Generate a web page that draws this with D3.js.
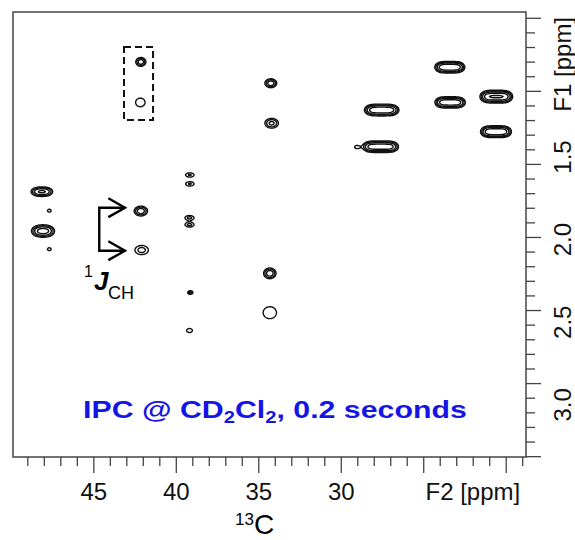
<!DOCTYPE html>
<html>
<head>
<meta charset="utf-8">
<script src="https://cdn.jsdelivr.net/npm/d3@7"></script>
<style>
  body { margin: 0; background: #fff; }
  svg { display: block; }
</style>
</head>
<body>
<script>
// ---- axis settings (ppm) ----
const f2Domain = [49.9, 18.8];          // 13C, decreasing to the right
const f1Domain = [0.623, 3.315];        // 1H, increasing downward
const f2Labels = [45, 40, 35, 30];
const f1Labels = [1.5, 2.0, 2.5, 3.0];
// F1 ruler marks: first mark, spacing and count (ppm)
const f1RulerStart = 0.661, f1RulerStep = 0.0884, f1RulerCount = 31;

// ---- cross peaks ----
// F2 shift, F1 shift, line width along F2 / F1 (ppm), line intensity, number of lines, line spacing along F2 (ppm)
const peakC  = [42.15, 42.18, 34.27, 34.22, 23.42, 23.40, 20.60, 20.62, 27.55, 27.62, 29.06,
                48.15, 48.08, 47.70, 47.70, 42.15, 42.10, 39.18, 39.18, 39.20, 39.20, 39.15, 39.20, 34.33, 34.33];
const peakH  = [0.925, 1.170, 1.054, 1.296, 0.957, 1.170, 1.135, 1.347, 1.216, 1.438, 1.440,
                1.710, 1.948, 1.825, 2.058, 1.827, 2.063, 1.609, 1.663, 1.868, 1.910, 2.320, 2.550, 2.204, 2.442];
const peakWC = [0.206, 0.333, 0.242, 0.303, 0.242, 0.242, 0.260, 0.248, 0.273, 0.273, 0.182,
                0.290, 0.300, 0.139, 0.139, 0.273, 0.376, 0.267, 0.267, 0.267, 0.267, 0.121, 0.248, 0.255, 0.450];
const peakWH = [0.0181, 0.0302, 0.0181, 0.0218, 0.0194, 0.0194, 0.0212, 0.0200, 0.0200, 0.0200, 0.0121,
                0.0180, 0.0220, 0.0109, 0.0109, 0.0200, 0.0254, 0.0133, 0.0133, 0.0133, 0.0133, 0.0079, 0.0169, 0.0218, 0.0400];
const peakI  = [3.0, 1.45, 3.0, 2.5, 3.0, 2.9, 3.2, 3.0, 3.0, 3.0, 1.3,
                2.6, 3.0, 1.4, 1.4, 3.0, 1.8, 1.6, 1.6, 1.7, 1.7, 2.5, 1.3, 3.0, 1.5];
const peakN  = [1, 1, 1, 1, 4, 4, 4, 4, 4, 4, 1,
                2, 2, 1, 1, 1, 1, 1, 1, 1, 1, 1, 1, 1, 1];
const peakJ  = [0, 0, 0, 0, 0.364, 0.376, 0.394, 0.376, 0.424, 0.455, 0,
                0.500, 0.500, 0, 0, 0, 0, 0, 0, 0, 0, 0, 0, 0, 0];

// contour levels (multiples of the lowest level)
const levels = [1, 1.5, 2.2, 3.3, 5, 7.5];

// ---- annotations (ppm) ----
const boxC = [43.17, 41.41];
const boxH = [0.835, 1.276];
const bracketC = [44.67, 43.11, 44.12];   // stem, arrow tip, arrow barb
const bracketH = [1.807, 2.067];
const barbH = 0.057;

const W = 575, H = 540;
const frame = { left: 13, top: 12, right: 526, bottom: 457 };
const axisColor = "#444";

const svg = d3.select("body").append("svg")
  .attr("width", W).attr("height", H)
  .style("font-family", "'Liberation Sans', Arial, sans-serif");

const x = d3.scaleLinear().domain(f2Domain).range([frame.left, frame.right]);
const y = d3.scaleLinear().domain(f1Domain).range([frame.top, frame.bottom]);

// ---- spectrum grid, one sample per pixel ----
const nx = frame.right - frame.left;
const ny = frame.bottom - frame.top;
const gx = d3.scaleLinear().domain([0, nx]).range(f2Domain);
const gy = d3.scaleLinear().domain([0, ny]).range(f1Domain);

const comps = [];
peakC.forEach((c, i) => {
  const n = peakN[i];
  for (let k = 0; k < n; k++) {
    comps.push({
      c: c + (k - (n - 1) / 2) * peakJ[i],
      h: peakH[i],
      wc: peakWC[i], wh: peakWH[i],
      a: peakI[i]
    });
  }
});

const values = new Float64Array(nx * ny);
for (let j = 0; j < ny; j++) {
  const ph = gy(j + 0.5);
  for (let i = 0; i < nx; i++) {
    const pc = gx(i + 0.5);
    let v = 0;
    for (const p of comps) {
      const dc = (pc - p.c) / p.wc, dh = (ph - p.h) / p.wh;
      const r = dc * dc + dh * dh;
      if (r < 60) v += p.a * Math.exp(-0.5 * r);
    }
    values[j * nx + i] = v;
  }
}

const contours = d3.contours().size([nx, ny]).thresholds(levels)(values);
const toPpm = d3.geoTransform({
  point(px, py) { this.stream.point(x(gx(px)), y(gy(py))); }
});
const path = d3.geoPath(toPpm);

svg.append("g")
  .selectAll("path")
  .data(contours)
  .join("path")
  .attr("d", path)
  .attr("fill", "none")
  .attr("stroke", "#111")
  .attr("stroke-width", 1.4)
  .attr("stroke-linejoin", "round");

// ---- frame ----
svg.append("rect")
  .attr("x", frame.left).attr("y", frame.top)
  .attr("width", frame.right - frame.left).attr("height", frame.bottom - frame.top)
  .attr("fill", "none").attr("stroke", axisColor).attr("stroke-width", 1.5);

// ---- F2 axis ticks ----
const f2Ticks = d3.range(Math.ceil(f2Domain[1]), Math.floor(f2Domain[0]) + 1, 1);
svg.append("g").selectAll("line")
  .data(f2Ticks)
  .join("line")
  .attr("x1", d => x(d)).attr("x2", d => x(d))
  .attr("y1", frame.bottom)
  .attr("y2", d => frame.bottom + (d % 5 === 0 ? 16 : 9))
  .attr("stroke", axisColor).attr("stroke-width", 1.3);

svg.append("g").selectAll("text")
  .data(f2Labels)
  .join("text")
  .attr("x", d => x(d)).attr("y", 500)
  .attr("text-anchor", "middle")
  .attr("font-size", 24).attr("fill", "#111")
  .text(d => d);

svg.append("text")
  .attr("x", x(20) + 14).attr("y", 500)
  .attr("text-anchor", "end")
  .attr("font-size", 24).attr("fill", "#111")
  .text("F2 [ppm]");

// ---- F1 axis ticks ----
const f1Ticks = d3.range(f1RulerCount).map(k => ({ k, v: f1RulerStart + k * f1RulerStep }));
svg.append("g").selectAll("line")
  .data(f1Ticks)
  .join("line")
  .attr("x1", frame.right)
  .attr("x2", d => frame.right + (d.k % 5 === 0 ? 15 : 9))
  .attr("y1", d => y(d.v)).attr("y2", d => y(d.v))
  .attr("stroke", axisColor).attr("stroke-width", 1.3);

svg.append("g").selectAll("text")
  .data(f1Labels)
  .join("text")
  .attr("transform", d => `translate(571,${y(d)}) rotate(-90)`)
  .attr("text-anchor", "middle")
  .attr("font-size", 24).attr("fill", "#111")
  .text(d => d.toFixed(1));

svg.append("text")
  .attr("transform", `translate(571,${y(1.0) - 10}) rotate(-90)`)
  .attr("text-anchor", "middle")
  .attr("font-size", 24).attr("fill", "#111")
  .text("F1 [ppm]");

// ---- 13C axis title ----
svg.append("text").attr("x", 235).attr("y", 525)
  .attr("font-size", 17).attr("fill", "#000").text("13");
svg.append("text").attr("x", 254).attr("y", 534)
  .attr("font-size", 28).attr("fill", "#000").text("C");

// ---- dashed box ----
svg.append("rect")
  .attr("x", x(boxC[0])).attr("y", y(boxH[0]))
  .attr("width", x(boxC[1]) - x(boxC[0])).attr("height", y(boxH[1]) - y(boxH[0]))
  .attr("fill", "none").attr("stroke", "#111").attr("stroke-width", 2)
  .attr("stroke-dasharray", "7,4");

// ---- 1J(CH) bracket with arrows ----
const br = svg.append("g").attr("fill", "none").attr("stroke", "#000").attr("stroke-width", 2.4);
br.append("path").attr("d",
  `M${x(bracketC[1])},${y(bracketH[0])}H${x(bracketC[0])}V${y(bracketH[1])}H${x(bracketC[1])}`);
bracketH.forEach(h => {
  br.append("path").attr("d",
    `M${x(bracketC[2])},${y(h - barbH)}L${x(bracketC[1])},${y(h)}L${x(bracketC[2])},${y(h + barbH)}`);
});

svg.append("text").attr("x", 84).attr("y", 277).attr("font-size", 16).text("1");
svg.append("text").attr("x", 94).attr("y", 290).attr("font-size", 26)
  .attr("font-weight", "bold").attr("font-style", "italic").text("J");
svg.append("text").attr("x", 108).attr("y", 299).attr("font-size", 18).text("CH");

// ---- caption ----
const capX = 83, capW = 384;
const cap = svg.append("text")
  .attr("font-size", 24).attr("font-weight", "bold").attr("fill", "#1414e6");
cap.append("tspan").text("IPC @ CD");
cap.append("tspan").attr("font-size", 16).attr("dy", 5).text("2");
cap.append("tspan").attr("dy", -5).text("Cl");
cap.append("tspan").attr("font-size", 16).attr("dy", 5).text("2");
cap.append("tspan").attr("dy", -5).text(", 0.2 seconds");
const capLen = cap.node().getComputedTextLength();
cap.attr("transform", `translate(${capX},418) scale(${capW / capLen},1)`);
</script>
</body>
</html>
